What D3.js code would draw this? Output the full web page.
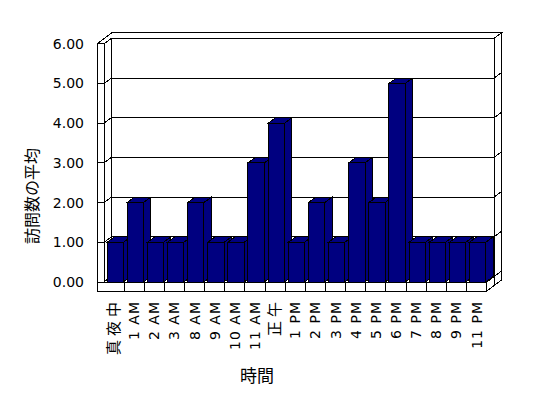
<!DOCTYPE html>
<html>
<head>
<meta charset="utf-8">
<script src="https://cdn.jsdelivr.net/npm/d3@7"></script>
<style>
  body { margin: 0; background: #fff; }
  svg text { fill: #000; }
</style>
</head>
<body>
<div id="chart"></div>
<script type="text/javascript">

      // data
      var categories = ["真夜中", "1 AM", "2 AM", "3 AM", "8 AM", "9 AM", "10 AM", "11 AM", "正午",
                        "1 PM", "2 PM", "3 PM", "4 PM", "5 PM", "6 PM", "7 PM", "8 PM", "9 PM", "11 PM"];
      var visits = [1, 2, 1, 1, 2, 1, 1, 3, 4, 1, 2, 1, 3, 2, 5, 1, 1, 1, 1];
      var tickValues = [0, 1, 2, 3, 4, 5, 6];
      var yTitle = "訪問数の平均";
      var xTitle = "時間";

      var w = 548, h = 398;
      var DX = 7.4, DY = -5.5;   // one step of depth
      var wallL = 97, floorH = 9;
      var barOff = 3, barW = 16.3;
      var navy = "#000080";

      var x = d3.scaleBand().domain(categories).range([104, 486.7]);
      var y = d3.scaleLinear().domain([0, 6]).range([282, 43.8]);
      var x0 = x.range()[0], x1 = x.range()[1];
      var y0 = y(0), yTop = y(6);

      var svg = d3.select("#chart")
                  .append("svg")
                  .attr("width", w)
                  .attr("height", h)
                  .style("font-family", "'DejaVu Sans', 'Noto Sans CJK JP', sans-serif");

      var frame = svg.append("g")
                     .attr("fill", "#fff")
                     .attr("stroke", "#000")
                     .attr("stroke-width", 1)
                     .attr("shape-rendering", "crispEdges");

      function pts(a) { return a.map(function(p) { return p.join(","); }).join(" "); }

      // top of the left wall + back wall
      frame.append("polygon").attr("points", pts([
        [wallL, yTop], [x0, yTop], [x0 + DX, yTop + DY], [x1 + DX, yTop + DY],
        [x1 + 2 * DX, yTop + 2 * DY], [wallL + 2 * DX, yTop + 2 * DY]]));

      // right end of the back wall
      frame.append("polygon").attr("points", pts([
        [x1 + DX, yTop + DY], [x1 + 2 * DX, yTop + 2 * DY],
        [x1 + 2 * DX, y0 + floorH + 2 * DY], [x1 + DX, y0 + floorH + DY]]));

      // back wall face
      frame.append("rect")
           .attr("x", x0 + DX).attr("y", yTop + DY)
           .attr("width", x1 - x0).attr("height", y0 - yTop);

      // inner face of left wall
      frame.append("polygon").attr("points", pts([
        [x0, y0], [x0, yTop], [x0 + DX, yTop + DY], [x0 + DX, y0 + DY]]));

      // front edge of left wall
      frame.append("rect")
           .attr("x", wallL).attr("y", yTop)
           .attr("width", x0 - wallL).attr("height", y0 - yTop);

      // gridlines
      frame.selectAll(".grid")
           .data(tickValues)
           .enter()
           .append("polyline")
           .attr("fill", "none")
           .attr("points", function(d) {
                return pts([[wallL, y(d)], [x0, y(d)], [x0 + DX, y(d) + DY],
                            [x1 + DX, y(d) + DY], [x1 + 2 * DX, y(d) + 2 * DY]]);
           });

      // floor
      frame.append("polygon").attr("points", pts([
        [x1, y0], [x1, y0 + floorH], [x1 + DX, y0 + floorH + DY], [x1 + DX, y0 + DY]]));
      frame.append("polygon").attr("points", pts([
        [x0, y0], [x1, y0], [x1 + DX, y0 + DY], [x0 + DX, y0 + DY]]));
      frame.append("rect")
           .attr("x", wallL).attr("y", y0)
           .attr("width", x1 - wallL).attr("height", floorH);
      frame.selectAll(".ftick")
           .data(categories.slice(1))
           .enter()
           .append("line")
           .attr("x1", function(d) { return x(d); })
           .attr("x2", function(d) { return x(d); })
           .attr("y1", y0).attr("y2", y0 + floorH);

      // bars
      var bars = svg.append("g")
                    .attr("fill", navy)
                    .attr("stroke", "#000")
                    .attr("stroke-width", 1)
                    .attr("shape-rendering", "crispEdges")
                    .selectAll("g")
                    .data(categories.map(function(c, i) { return {c: c, v: visits[i]}; }))
                    .enter()
                    .append("g");

      bars.append("polygon")
          .attr("points", function(d) {
               var bx = x(d.c) + barOff + barW;
               return pts([[bx, y(d.v)], [bx + DX, y(d.v) + DY], [bx + DX, y0 + DY], [bx, y0]]);
          });
      bars.append("polygon")
          .attr("points", function(d) {
               var bx = x(d.c) + barOff;
               return pts([[bx, y(d.v)], [bx + DX, y(d.v) + DY], [bx + barW + DX, y(d.v) + DY], [bx + barW, y(d.v)]]);
          });
      bars.append("rect")
          .attr("x", function(d) { return x(d.c) + barOff; })
          .attr("y", function(d) { return y(d.v); })
          .attr("width", barW)
          .attr("height", function(d) { return y0 - y(d.v); });

      // value axis labels
      var yAxis = svg.append("g")
                     .attr("transform", "translate(" + wallL + ",0)")
                     .call(d3.axisLeft(y).tickValues(tickValues).tickFormat(d3.format(".2f")).tickSize(0).tickPadding(13));
      yAxis.select(".domain").remove();
      yAxis.selectAll("text")
           .attr("font-family", "'DejaVu Sans', sans-serif")
           .attr("font-size", 14);

      // category labels
      var isCJK = function(s) { return /[^\x00-\x7F]/.test(s); };
      var xAxis = svg.append("g")
                     .attr("transform", "translate(0,302)")
                     .call(d3.axisBottom(x).tickSize(0));
      xAxis.select(".domain").remove();
      xAxis.selectAll("text")
           .attr("font-family", "'DejaVu Sans', 'Noto Sans CJK JP', sans-serif")
           .attr("font-size", function(d) { return isCJK(d) ? 15 : 14; })
           .attr("letter-spacing", function(d) { return isCJK(d) ? 4 : 1; })
           .attr("transform", "rotate(-90)")
           .attr("x", function(d) { return isCJK(d) ? 4 : 1; })
           .attr("y", 0)
           .attr("dy", "0.35em")
           .style("text-anchor", "end");

      // titles
      svg.append("text")
         .attr("transform", "translate(32,196) rotate(-90)")
         .attr("text-anchor", "middle")
         .attr("dy", "0.35em")
         .attr("font-family", "'Noto Sans CJK JP', sans-serif")
         .attr("font-size", 16)
         .text(yTitle);

      svg.append("text")
         .attr("x", 257).attr("y", 376)
         .attr("text-anchor", "middle")
         .attr("dy", "0.35em")
         .attr("font-family", "'Noto Sans CJK JP', sans-serif")
         .attr("font-size", 17)
         .text(xTitle);

</script>
</body>
</html>
